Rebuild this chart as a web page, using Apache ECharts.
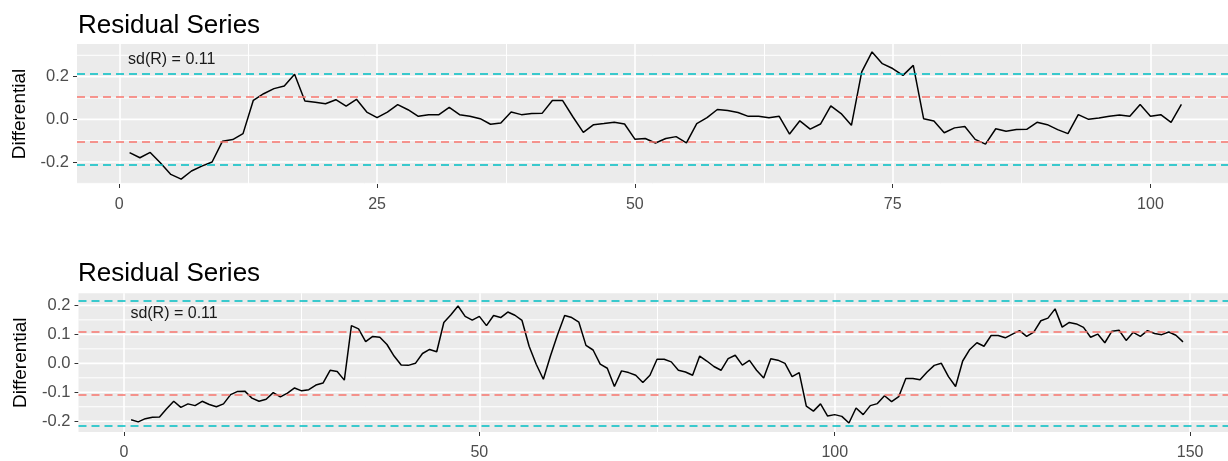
<!DOCTYPE html>
<html>
<head>
<meta charset="utf-8">
<script src="https://cdn.jsdelivr.net/npm/echarts@6/dist/echarts.min.js"></script>
<style>
  html, body { margin: 0; padding: 0; background: #ffffff; }
  #chart { width: 1228px; height: 461px; }
</style>
</head>
<body>
<div id="chart"></div>
<script>
// Residuals of the first fitted model (observations 1..103)
const residualsA = [
  -0.156, -0.18, -0.155, -0.205, -0.258, -0.28, -0.242, -0.219, -0.2, -0.103,
  -0.095, -0.067, 0.089, 0.12, 0.144, 0.156, 0.211, 0.086, 0.08, 0.073,
  0.092, 0.062, 0.094, 0.034, 0.008, 0.034, 0.069, 0.045, 0.014, 0.022,
  0.022, 0.056, 0.022, 0.014, 0.003, -0.023, -0.017, 0.034, 0.022, 0.027,
  0.028, 0.088, 0.088, 0.011, -0.061, -0.025, -0.02, -0.014, -0.022, -0.093,
  -0.09, -0.111, -0.09, -0.081, -0.11, -0.02, 0.008, 0.046, 0.041, 0.032,
  0.014, 0.014, 0.007, 0.014, -0.069, -0.007, -0.046, -0.022, 0.063, 0.027,
  -0.028, 0.222, 0.316, 0.261, 0.238, 0.206, 0.253, 0.003, -0.008, -0.063,
  -0.04, -0.034, -0.094, -0.116, -0.044, -0.056, -0.048, -0.047, -0.014, -0.025,
  -0.048, -0.067, 0.022, 0.0, 0.006, 0.014, 0.02, 0.014, 0.069, 0.014,
  0.022, -0.014, 0.07
];

// Residuals of the second fitted model (observations 1..149)
const residualsB = [
  -0.195, -0.202, -0.191, -0.186, -0.185, -0.157, -0.131, -0.152, -0.14, -0.146,
  -0.131, -0.142, -0.15, -0.14, -0.108, -0.097, -0.096, -0.12, -0.131, -0.124,
  -0.101, -0.116, -0.103, -0.085, -0.095, -0.091, -0.075, -0.068, -0.024, -0.028,
  -0.058, 0.13, 0.119, 0.075, 0.093, 0.09, 0.065, 0.025, -0.006, -0.007,
  0.0, 0.034, 0.048, 0.04, 0.141, 0.168, 0.198, 0.162, 0.149, 0.162,
  0.13, 0.165, 0.158, 0.177, 0.166, 0.148, 0.059, -0.003, -0.055, 0.025,
  0.099, 0.165, 0.158, 0.142, 0.062, 0.046, -0.003, -0.017, -0.08, -0.026,
  -0.032, -0.041, -0.066, -0.041, 0.014, 0.014, 0.005, -0.024, -0.03, -0.041,
  0.025, 0.008, -0.011, -0.024, 0.016, 0.028, -0.006, 0.01, -0.024, -0.051,
  0.016, 0.011, 0.0, -0.046, -0.032, -0.148, -0.165, -0.14, -0.182, -0.177,
  -0.183, -0.206, -0.154, -0.177, -0.146, -0.139, -0.112, -0.132, -0.115, -0.052,
  -0.052, -0.057, -0.03, -0.007, 0.0, -0.046, -0.08, 0.008, 0.048, 0.071,
  0.059, 0.096, 0.096, 0.088, 0.101, 0.113, 0.093, 0.108, 0.147, 0.156,
  0.188, 0.125, 0.141, 0.136, 0.124, 0.09, 0.101, 0.071, 0.111, 0.114,
  0.079, 0.107, 0.093, 0.113, 0.103, 0.099, 0.108, 0.097, 0.074
];

// Residual standard deviations (bands drawn at +/- 1 sd and +/- 2 sd)
const sdA = 0.106;
const sdB = 0.108;

// Axis breaks
const xBreaksA = [0, 25, 50, 75, 100];
const xMinorA = [12.5, 37.5, 62.5, 87.5];
const yBreaksA = [-0.2, 0, 0.2];
const yMinorA = [-0.3, -0.1, 0.1, 0.3];

const xBreaksB = [0, 50, 100, 150];
const xMinorB = [25, 75, 125];
const yBreaksB = [-0.2, -0.1, 0, 0.1, 0.2];
const yMinorB = [-0.15, -0.05, 0.05, 0.15];

const panelTitle = 'Residual Series';
const yTitle = 'Differential';

const FONT = '"Liberation Sans", Arial, Helvetica, sans-serif';
const TEAL = '#00BFC4';
const SALMON = '#F8766D';

// an empty helper series that only carries a set of reference lines
function lineLayer(i, z, items, style) {
  return {
    type: 'line', xAxisIndex: i, yAxisIndex: i, data: [], z: z, silent: true,
    markLine: {
      z: z, silent: true, symbol: ['none', 'none'], label: { show: false },
      precision: 4, lineStyle: style, data: items
    }
  };
}

// a horizontal panel grid line running across the full x range
function hRule(i, cfg, value, width) {
  return {
    type: 'line', xAxisIndex: i, yAxisIndex: i, z: 1, silent: true,
    data: [[cfg.xMin, value], [cfg.xMax, value]],
    showSymbol: false, symbol: 'none',
    lineStyle: { color: '#FFFFFF', width: width, type: 'solid' }
  };
}

function buildPanel(i, cfg) {
  const white = { color: '#FFFFFF', type: 'solid' };
  const vLines = cfg.xMinor.map(v => ({ xAxis: v, lineStyle: { width: 1 } }))
    .concat(cfg.xBreaks.map(v => ({ xAxis: v, lineStyle: { width: 1.6 } })));
  const hRules = cfg.yMinor.map(v => hRule(i, cfg, v, 1))
    .concat(cfg.yBreaks.map(v => hRule(i, cfg, v, 1.6)));

  const bands = [
    { yAxis: 2 * cfg.sd, lineStyle: { color: TEAL } },
    { yAxis: -2 * cfg.sd, lineStyle: { color: TEAL } },
    { yAxis: cfg.sd, lineStyle: { color: SALMON } },
    { yAxis: -cfg.sd, lineStyle: { color: SALMON } }
  ];

  return {
    grid: {
      left: cfg.left, top: cfg.top, width: cfg.width, height: cfg.height,
      show: true, backgroundColor: '#EBEBEB', borderWidth: 0, containLabel: false
    },
    xAxis: {
      type: 'value', gridIndex: i, min: cfg.xMin, max: cfg.xMax, position: 'bottom',
      axisLine: { show: false, onZero: false },
      splitLine: { show: false },
      axisTick: { show: true, length: 4, customValues: cfg.xBreaks, lineStyle: { color: '#333333', width: 1 } },
      axisLabel: {
        customValues: cfg.xBreaks, margin: 13, fontSize: 16, color: '#4D4D4D', fontFamily: FONT,
        formatter: v => String(v)
      }
    },
    yAxis: {
      type: 'value', gridIndex: i, min: cfg.yMin, max: cfg.yMax, position: 'left',
      name: yTitle, nameLocation: 'middle', nameRotate: 90, nameGap: 48,
      nameTextStyle: { fontSize: 19, color: '#000000', fontFamily: FONT },
      axisLine: { show: false, onZero: false },
      splitLine: { show: false },
      axisTick: { show: true, length: 4, customValues: cfg.yBreaks, lineStyle: { color: '#333333', width: 1 } },
      axisLabel: {
        customValues: cfg.yBreaks, margin: 8, fontSize: 16.5, color: '#4D4D4D', fontFamily: FONT,
        formatter: v => v.toFixed(1)
      }
    },
    series: hRules.concat([
      {
        type: 'line', xAxisIndex: i, yAxisIndex: i, z: 3,
        data: cfg.values.map((v, k) => [k + 1, v]),
        showSymbol: false, symbol: 'none',
        lineStyle: { color: '#000000', width: 1.5 },
        markPoint: {
          silent: true, symbol: 'rect', symbolSize: 0,
          data: [{
            coord: cfg.notePos,
            label: {
              show: true, position: 'right', distance: 0,
              formatter: 'sd(R) = ' + cfg.sd.toFixed(2),
              fontSize: 16, color: '#1A1A1A', fontFamily: FONT
            }
          }]
        }
      },
      // vertical panel grid lines, kept underneath the data
      lineLayer(i, 1, vLines, white),
      // +/- 1 sd and +/- 2 sd reference lines
      lineLayer(i, 4, bands, { type: [8, 5], width: 1.5 })
    ])
  };
}

const panels = [
  buildPanel(0, {
    values: residualsA, sd: sdA,
    xBreaks: xBreaksA, xMinor: xMinorA, yBreaks: yBreaksA, yMinor: yMinorA,
    left: 77, top: 44, width: 1151, height: 140,
    xMin: -4.1, xMax: 107.52, yMin: -0.303, yMax: 0.353,
    notePos: [0.85, 0.28]
  }),
  buildPanel(1, {
    values: residualsB, sd: sdB,
    xBreaks: xBreaksB, xMinor: xMinorB, yBreaks: yBreaksB, yMinor: yMinorB,
    left: 78.5, top: 293.3, width: 1149.5, height: 140,
    xMin: -6.4, xMax: 155.33, yMin: -0.237, yMax: 0.2417,
    notePos: [0.9, 0.171]
  })
];

const chart = echarts.init(document.getElementById('chart'), null, { renderer: 'canvas' });
chart.setOption({
  animation: false,
  backgroundColor: '#FFFFFF',
  title: [
    { text: panelTitle, left: 78, top: 13, padding: 0,
      textStyle: { fontSize: 26, fontWeight: 'normal', color: '#000000', fontFamily: FONT } },
    { text: panelTitle, left: 78, top: 261, padding: 0,
      textStyle: { fontSize: 26, fontWeight: 'normal', color: '#000000', fontFamily: FONT } }
  ],
  grid: panels.map(p => p.grid),
  xAxis: panels.map(p => p.xAxis),
  yAxis: panels.map(p => p.yAxis),
  series: panels[0].series.concat(panels[1].series)
});
</script>
</body>
</html>
